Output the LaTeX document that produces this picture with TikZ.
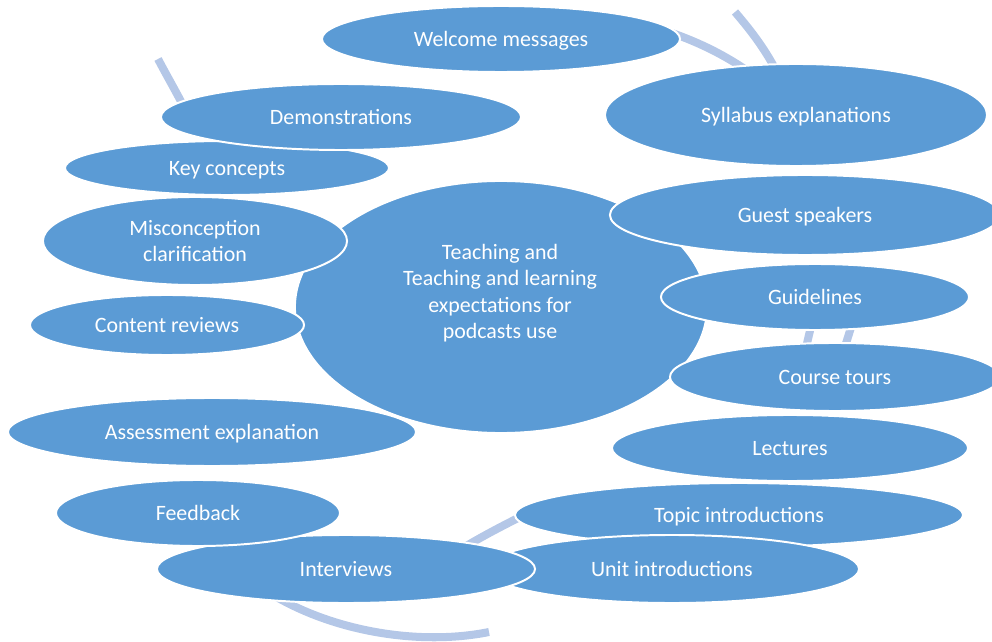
\documentclass[tikz,border=0pt]{standalone}
\usepackage{fontspec}
\setmainfont{Carlito}
\usetikzlibrary{shapes.geometric}
\definecolor{bubblue}{RGB}{91,155,213}
\definecolor{arcblue}{RGB}{180,199,231}
\begin{document}
\begin{tikzpicture}[x=0.025cm, y=-0.025cm,
  bub/.style args={#1/#2}{ellipse, fill=bubblue, draw=white, line width=1.4pt,
    inner sep=0pt, minimum width=#1*0.05cm, minimum height=#2*0.05cm,
    text=white, font=\fontsize{15.6}{18.8}\selectfont, align=center},
  oneline/.style={text height=11pt, text depth=0pt},
  bubtext/.style={text=white, font=\fontsize{15.6}{18.8}\selectfont, align=center, inner sep=0pt},
  arcline/.style={draw=arcblue, line width=5.7pt}]
\useasboundingbox (0,0) rectangle (992,642);
\clip (0,0) rectangle (992,642);
% background cycle arcs
\draw[arcline] (158,59) .. controls (168,78) and (178,95) .. (188,115);
\draw[arcline] (672,33) .. controls (700,43) and (725,55) .. (752,74);
\draw[arcline] (735,12) .. controls (752,32) and (766,50) .. (780,78);
\draw[arcline] (813,318) -- (804,356);
\draw[arcline] (854,318) -- (842,356);
\draw[arcline] (265,590) .. controls (330,632) and (420,646) .. (489,632);
\draw[arcline] (450,556) .. controls (475,540) and (500,527) .. (530,512);
% bubbles
\node[bub=206/126] (hub) at (501,307) {};
\node[bubtext] (hubtext) at (500,293) {Teaching and\\Teaching and learning\\expectations for\\podcasts use};
\node[bub=179/33, oneline] (welcome) at (501,39) {Welcome messages};
\node[bub=191/51, oneline] (syllabus) at (796,115) {Syllabus explanations};
\node[bub=162/27, oneline] (keyc) at (227,168) {Key concepts};
\node[bub=180/33, oneline] (demo) at (341,117) {Demonstrations};
\node[bub=152/44] (misc) at (195,241) {Misconception\\clarification};
\node[bub=137/30, oneline] (content) at (167,325) {Content reviews};
\node[bub=195/40, oneline] (guest) at (805,215) {Guest speakers};
\node[bub=154/33, oneline] (guide) at (815,297) {Guidelines};
\node[bub=165/34, oneline] (course) at (835,377) {Course tours};
\node[bub=178/33, oneline] (lect) at (790,448) {Lectures};
\node[bub=224/32, oneline] (topic) at (739,515) {Topic introductions};
\node[bub=187/34, oneline] (unit) at (672,569) {Unit introductions};
\node[bub=189/34, oneline] (interv) at (346,569) {Interviews};
\node[bub=142/33, oneline] (feedb) at (198,513) {Feedback};
\node[bub=204/34, oneline] (assess) at (212,432) {Assessment explanation};
\end{tikzpicture}
\end{document}
